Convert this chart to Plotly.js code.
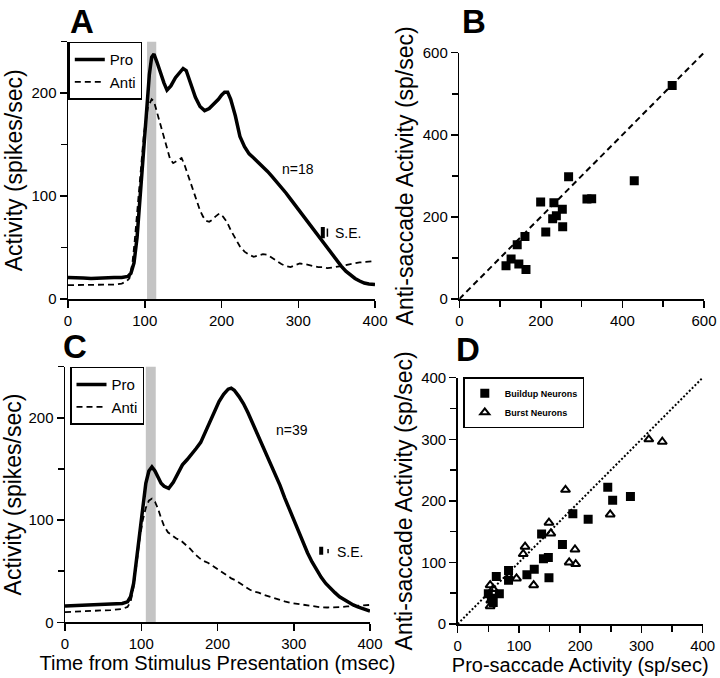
<!DOCTYPE html>
<html>
<head>
<meta charset="utf-8">
<script src="https://cdn.plot.ly/plotly-3.0.1.min.js"></script>
<style>
  html, body { margin: 0; padding: 0; background: #fff; }
  #chart { width: 720px; height: 678px; }
</style>
</head>
<body>
<div id="chart"></div>
<script>
// ---------- Panel A: population activity (n=18) ----------
const tProA = [0,10,20,30,40,50,60,70,78,82,86,90,94,98,102,106,109,112,116,120,125,129,134,140,146,150,154,160,166,172,178,184,190,196,200,204,208,212,218,224,230,236,242,248,254,260,266,272,278,284,290,296,302,308,314,320,326,332,338,344,350,356,362,368,374,380,386,392,400];
const vProA = [21,21,20.5,20,20.5,21,21,21,22,25,35,60,100,145,185,218,235,238,230,220,210,203,207,215,220,224,222,210,196,187,183,185,189,194,198,201,201,194,178,158,148,141,137,133,128,124,119,114,108,103,97,91,85,79,73,67,61,55,49,43,37,32,27,23,20,17.5,15.5,14.5,14];
const tAntiA = [0,20,40,60,70,76,80,84,87,90,94,99,104,109,112,115,119,122,126,129,133,137,142,148,152,156,160,164,168,172,176,180,184,188,192,197,202,207,212,218,224,230,236,242,248,254,260,266,272,278,284,290,296,302,308,314,320,326,332,338,344,350,356,362,368,374,380,388,395,400];
const vAntiA = [13.5,13.5,13.5,14,15,17,20,35,57,85,122,161,186,194,192,184,172,164,152,145,136,132,134,137,130,121,112,103,94,86,80,76,75,77,80,83,80,75,67,59,51,46,43,41,42,43.5,43,40,37,34,32,31,33,34.5,34,33,32,31,31,30,30.5,31,32,33,34,35,35.5,36,37,37];
const bandA = [103, 115];

// ---------- Panel C: population activity (n=39) ----------
const tProC = [0,20,40,60,75,82,86,90,94,98,102,106,110,114,118,122,126,130,136,142,148,154,160,166,172,178,184,190,196,202,208,214,218,222,228,234,240,246,252,258,264,270,276,282,288,294,300,306,312,318,324,330,336,342,348,354,360,366,372,378,384,392,400];
const vProC = [16,16.5,17,17.5,18.5,20,25,38,62,92,116,136,148,152,148,141,136,133,131,137,146,154,159,164,170,176,186,198,207,216,223,228,229,227,221,214,205,195,186,176,166,156,145,134,122,111,100,89,78,68,59,51,44,38,33,29,25,22,19,17,15,13,11];
const tAntiC = [0,20,40,60,75,82,86,90,94,98,102,106,110,114,118,122,126,130,135,140,146,152,158,164,170,176,182,188,194,200,206,212,218,224,230,236,242,248,254,260,266,272,280,288,296,304,312,320,328,336,344,352,360,370,380,390,400];
const vAntiC = [10,10.5,11,12,13,15,20,35,58,82,100,112,119,121,118,111,102,94,88,85,82,80,76,72,67,63,60,58,55,52,49,46,43,41,38,35,32,30,29,27,25.5,24,22,20.5,19,18,17,16,15,14.6,14.5,14.5,14.8,15.5,16,16.5,17];
const bandC = [106, 119];

// S.E. markers and labels
const seLabelText = "S.E.";
const seA_x = [332, 338];     // thick (Pro), thin (Anti)
const seA_lo = [59, 60.5];
const seA_hi = [70, 68.5];
const seA_label = [345, 64];
const seC_x = [336, 345];
const seC_lo = [66, 67.5];
const seC_hi = [74, 71.6];
const seC_label = [354, 69];
const nA = {text: "n=18", t: 300, v: 126};
const nC = {text: "n=39", t: 298, v: 188};

// ---------- Panel B: scatter, n=18 ----------
const proB  = [114.5,127,146,163.5,142,161,199.5,232,252.6,229,212,253.5,268,313,324.6,429,522,238];
const antiB = [81,97.4,85,72,132,152,236,234.6,218.5,195.6,163,176,298,243.6,244,288,520,203];
const unityB = [0, 600];

// ---------- Panel D: scatter, buildup vs burst ----------
const buildPro  = [245,253,282,188,213,137,171,148,140,125,113,149,83,83,63,68,50,55,58];
const buildAnti = [222,201,207,179,170,146,129,108,106,89,80,75,87,71,77,49,49,42,35];
const burstPro  = [176,149,152,110,107,191.5,182,192.6,84,96,124,53,54,53,249,312,334,58];
const burstAnti = [218,164.5,147,125.6,113.7,121,100,97.4,77,74,63,63,38,29,178,300,296,57];
const unityD = [0, 400];

const FONT = "Liberation Sans, Arial, Helvetica, sans-serif";
const W = 720, H = 678;
const px = v => v / W;
const py = v => 1 - v / H;

function seTraces(xa, ya, xs, lo, hi) {
  return [
    {x: [xs[0], xs[0]], y: [lo[0], hi[0]], xaxis: xa, yaxis: ya, mode: 'lines',
     line: {color: 'black', width: 4}, showlegend: false, hoverinfo: 'skip'},
    {x: [xs[1], xs[1]], y: [lo[1], hi[1]], xaxis: xa, yaxis: ya, mode: 'lines',
     line: {color: 'black', width: 1.5}, showlegend: false, hoverinfo: 'skip'}
  ];
}

const traces = [
  {x: tProA, y: vProA, xaxis: 'x', yaxis: 'y', mode: 'lines', name: 'Pro',
   line: {color: 'black', width: 3.5}, legend: 'legend'},
  {x: tAntiA, y: vAntiA, xaxis: 'x', yaxis: 'y', mode: 'lines', name: 'Anti',
   line: {color: 'black', width: 1.8, dash: '6px,4px'}, legend: 'legend'},
  ...seTraces('x', 'y', seA_x, seA_lo, seA_hi),

  {x: unityB, y: unityB, xaxis: 'x2', yaxis: 'y2', mode: 'lines',
   line: {color: 'black', width: 2, dash: '6px,4px'}, showlegend: false},
  {x: proB, y: antiB, xaxis: 'x2', yaxis: 'y2', mode: 'markers',
   marker: {symbol: 'square', size: 9, color: 'black'}, showlegend: false},

  {x: tProC, y: vProC, xaxis: 'x3', yaxis: 'y3', mode: 'lines', name: 'Pro',
   line: {color: 'black', width: 3.5}, legend: 'legend2'},
  {x: tAntiC, y: vAntiC, xaxis: 'x3', yaxis: 'y3', mode: 'lines', name: 'Anti',
   line: {color: 'black', width: 1.8, dash: '6px,4px'}, legend: 'legend2'},
  ...seTraces('x3', 'y3', seC_x, seC_lo, seC_hi),

  {x: unityD, y: unityD, xaxis: 'x4', yaxis: 'y4', mode: 'lines',
   line: {color: 'black', width: 2, dash: '2px,2px'}, showlegend: false},
  {x: buildPro, y: buildAnti, xaxis: 'x4', yaxis: 'y4', mode: 'markers', name: 'Buildup Neurons',
   marker: {symbol: 'square', size: 9, color: 'black'}, legend: 'legend3'},
  {x: burstPro, y: burstAnti, xaxis: 'x4', yaxis: 'y4', mode: 'markers', name: 'Burst Neurons',
   marker: {symbol: 'triangle-up-open', size: 8, color: 'black', line: {width: 2, color: 'black'}},
   legend: 'legend3'}
];

function axisBase(extra) {
  return Object.assign({
    showline: true, linecolor: 'black', linewidth: 1.5,
    ticks: 'outside', ticklen: 7, tickwidth: 1.5, tickcolor: 'black',
    showgrid: false, zeroline: false, fixedrange: true,
    tickfont: {family: FONT, size: 15, color: 'black'}
  }, extra);
}
const minor50 = {ticks: 'outside', dtick: 50, ticklen: 6, tickwidth: 1.5, tickcolor: 'black', showgrid: false};
const minor100 = {ticks: 'outside', dtick: 100, ticklen: 6, tickwidth: 1.5, tickcolor: 'black', showgrid: false};
const xTitleFont = {family: FONT, size: 20, color: 'black'};
const yTitleFont = {family: FONT, size: 23, color: 'black'};
const letterFont = {family: FONT, size: 33, color: 'black'};

const layout = {
  width: W, height: H,
  margin: {l: 0, r: 0, t: 0, b: 0},
  paper_bgcolor: 'white', plot_bgcolor: 'rgba(0,0,0,0)',
  font: {family: FONT, color: 'black'},
  xaxis: axisBase({domain: [px(68), px(375)], anchor: 'y', range: [0, 400], dtick: 100}),
  yaxis: axisBase({domain: [py(299), py(41.7)], anchor: 'x', range: [0, 250], tickvals: [0, 100, 200],
    minor: minor50,
    title: {text: 'Activity (spikes/sec)', font: yTitleFont, standoff: 2}}),
  xaxis2: axisBase({domain: [px(459.3), px(704)], anchor: 'y2', range: [0, 600], dtick: 200,
    minor: minor100}),
  yaxis2: axisBase({domain: [py(299), py(52.7)], anchor: 'x2', range: [0, 600], dtick: 200,
    minor: minor100,
    title: {text: 'Anti-saccade Activity (sp/sec)', font: yTitleFont, standoff: 2}}),
  xaxis3: axisBase({domain: [px(65), px(370)], anchor: 'y3', range: [0, 400], dtick: 100,
    title: {text: 'Time from Stimulus Presentation (msec)', font: xTitleFont, standoff: 3}}),
  yaxis3: axisBase({domain: [py(622.3), py(366.7)], anchor: 'x3', range: [0, 250], tickvals: [0, 100, 200],
    minor: minor50,
    title: {text: 'Activity (spikes/sec)', font: yTitleFont, standoff: 2}}),
  xaxis4: axisBase({domain: [px(457.7), px(702.7)], anchor: 'y4', range: [0, 400], dtick: 100,
    minor: minor50,
    title: {text: 'Pro-saccade Activity (sp/sec)', font: xTitleFont, standoff: 3}}),
  yaxis4: axisBase({domain: [py(624), py(377.7)], anchor: 'x4', range: [0, 400], dtick: 100,
    minor: minor50,
    title: {text: 'Anti-saccade Activity (sp/sec)', font: yTitleFont, standoff: 2}}),
  legend: {x: px(68.3), y: py(41.7), xanchor: 'left', yanchor: 'top',
    bordercolor: 'black', borderwidth: 1.5, bgcolor: 'white',
    font: {family: FONT, size: 15, color: 'black'}, itemwidth: 30, tracegroupgap: 0},
  legend2: {x: px(70), y: py(366.7), xanchor: 'left', yanchor: 'top',
    bordercolor: 'black', borderwidth: 1.5, bgcolor: 'white',
    font: {family: FONT, size: 15, color: 'black'}, itemwidth: 30, tracegroupgap: 0},
  legend3: {x: px(463.3), y: py(377.3), xanchor: 'left', yanchor: 'top',
    bordercolor: 'black', borderwidth: 1.5, bgcolor: 'white',
    font: {family: FONT, size: 9, color: 'black', weight: 'bold'}, itemwidth: 30, tracegroupgap: 0},
  shapes: [
    {type: 'rect', xref: 'x', yref: 'y domain', x0: bandA[0], x1: bandA[1], y0: 0, y1: 1,
     fillcolor: '#c4c4c4', line: {width: 0}, layer: 'below'},
    {type: 'rect', xref: 'x3', yref: 'y3 domain', x0: bandC[0], x1: bandC[1], y0: 0, y1: 1,
     fillcolor: '#c4c4c4', line: {width: 0}, layer: 'below'}
  ],
  annotations: [
    {text: '<b>A</b>', xref: 'paper', yref: 'paper', x: px(82), y: py(2), xanchor: 'center', yanchor: 'top',
     showarrow: false, font: letterFont, borderpad: 0},
    {text: '<b>B</b>', xref: 'paper', yref: 'paper', x: px(474), y: py(2), xanchor: 'center', yanchor: 'top',
     showarrow: false, font: letterFont, borderpad: 0},
    {text: '<b>C</b>', xref: 'paper', yref: 'paper', x: px(75), y: py(366), xanchor: 'center', yanchor: 'bottom',
     showarrow: false, font: letterFont, borderpad: 0},
    {text: '<b>D</b>', xref: 'paper', yref: 'paper', x: px(468), y: py(369), xanchor: 'center', yanchor: 'bottom',
     showarrow: false, font: letterFont, borderpad: 0},
    {text: nA.text, xref: 'x', yref: 'y', x: nA.t, y: nA.v, showarrow: false,
     font: {family: FONT, size: 14, color: 'black'}},
    {text: nC.text, xref: 'x3', yref: 'y3', x: nC.t, y: nC.v, showarrow: false,
     font: {family: FONT, size: 14, color: 'black'}},
    {text: seLabelText, xref: 'x', yref: 'y', x: seA_label[0], y: seA_label[1], xanchor: 'left',
     showarrow: false, font: {family: FONT, size: 14, color: 'black'}},
    {text: seLabelText, xref: 'x3', yref: 'y3', x: seC_label[0], y: seC_label[1], xanchor: 'left',
     showarrow: false, font: {family: FONT, size: 14, color: 'black'}}
  ]
};

Plotly.newPlot('chart', traces, layout, {staticPlot: true, displayModeBar: false});
</script>
</body>
</html>
